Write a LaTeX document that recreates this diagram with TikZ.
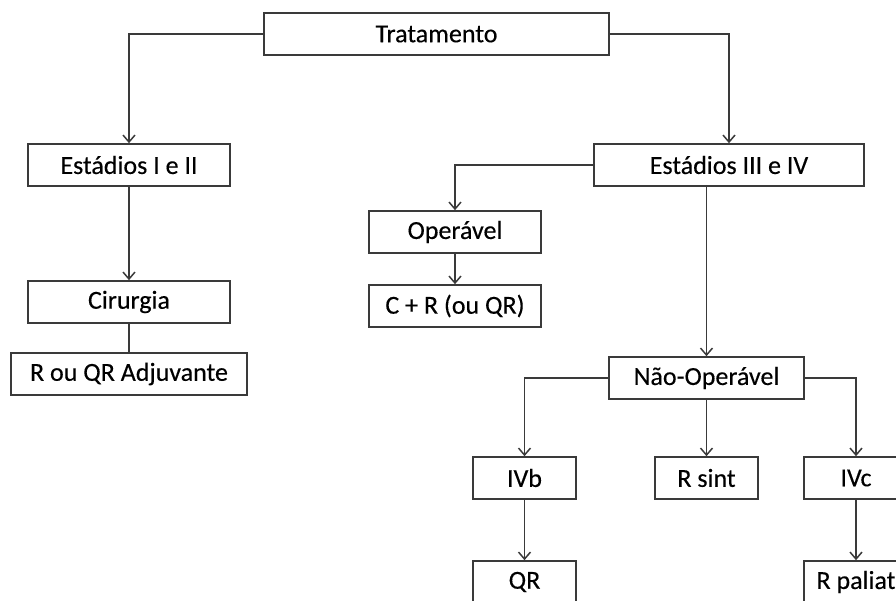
\documentclass[tikz,border=0pt]{standalone}
\usepackage{fontspec}
\setmainfont{Carlito}
\newfontfamily\boxfont{Carlito}[FakeBold=0.3]
\usetikzlibrary{arrows.meta}
\definecolor{ln}{HTML}{3A3A3A}
\begin{document}
\begin{tikzpicture}[x=1pt,y=-1pt,
  box/.style={draw=ln,line width=1.6pt,rectangle,inner sep=0pt,minimum height=42pt,
    font=\boxfont\fontsize{26}{30}\selectfont,text=black},
  conn/.style={draw=ln,line width=1.5pt},
  arr/.style={conn,-{Straight Barb[length=7pt,width=12pt,line width=1.5pt]}}]
\useasboundingbox (0,0) rectangle (896,601);
\clip (0,0) rectangle (896,601);
\node[box,minimum width=345pt] (trat) at (436.5,34) {Tratamento};
\node[box,minimum width=202pt] (e12) at (129,165) {Estádios I e II};
\node[box,minimum width=202pt] (cir) at (129,302) {Cirurgia};
\node[box,minimum width=236pt] (rqr) at (129,374) {R ou QR Adjuvante};
\node[box,minimum width=270pt] (e34) at (729,165) {Estádios III e IV};
\node[box,minimum width=172pt] (op) at (455,232) {Operável};
\node[box,minimum width=172pt] (cr) at (455,306) {C + R (ou QR)};
\node[box,minimum width=195pt] (nop) at (706.5,378) {Não-Operável};
\node[box,minimum width=103pt] (ivb) at (524.5,478) {IVb};
\node[box,minimum width=103pt] (rs) at (706.5,478) {R sint};
\node[box,minimum width=104pt] (ivc) at (856,478) {IVc};
\node[box,minimum width=103pt] (qr) at (524.5,582) {QR};
\node[box,minimum width=104pt] (rp) at (856,582) {R paliat};
\coordinate (e34b) at ([yshift=2pt]nop.north |- e34.south);
\draw[arr] (trat.west) -| (e12.north);
\draw[arr] (trat.east) -| (e34.north);
\draw[arr] (e12.south) -- (cir.north);
\draw[conn] (cir.south) -- (rqr.north);
\draw[arr] (e34.west) -| (op.north);
\draw[arr] (op.south) -- (cr.north);
\draw[arr] (e34b) -- (nop.north);
\draw[arr] (nop.west) -| (ivb.north);
\draw[arr] (nop.south) -- (rs.north);
\draw[arr] (nop.east) -| (ivc.north);
\draw[arr] (ivb.south) -- (qr.north);
\draw[arr] (ivc.south) -- (rp.north);
\end{tikzpicture}
\end{document}
